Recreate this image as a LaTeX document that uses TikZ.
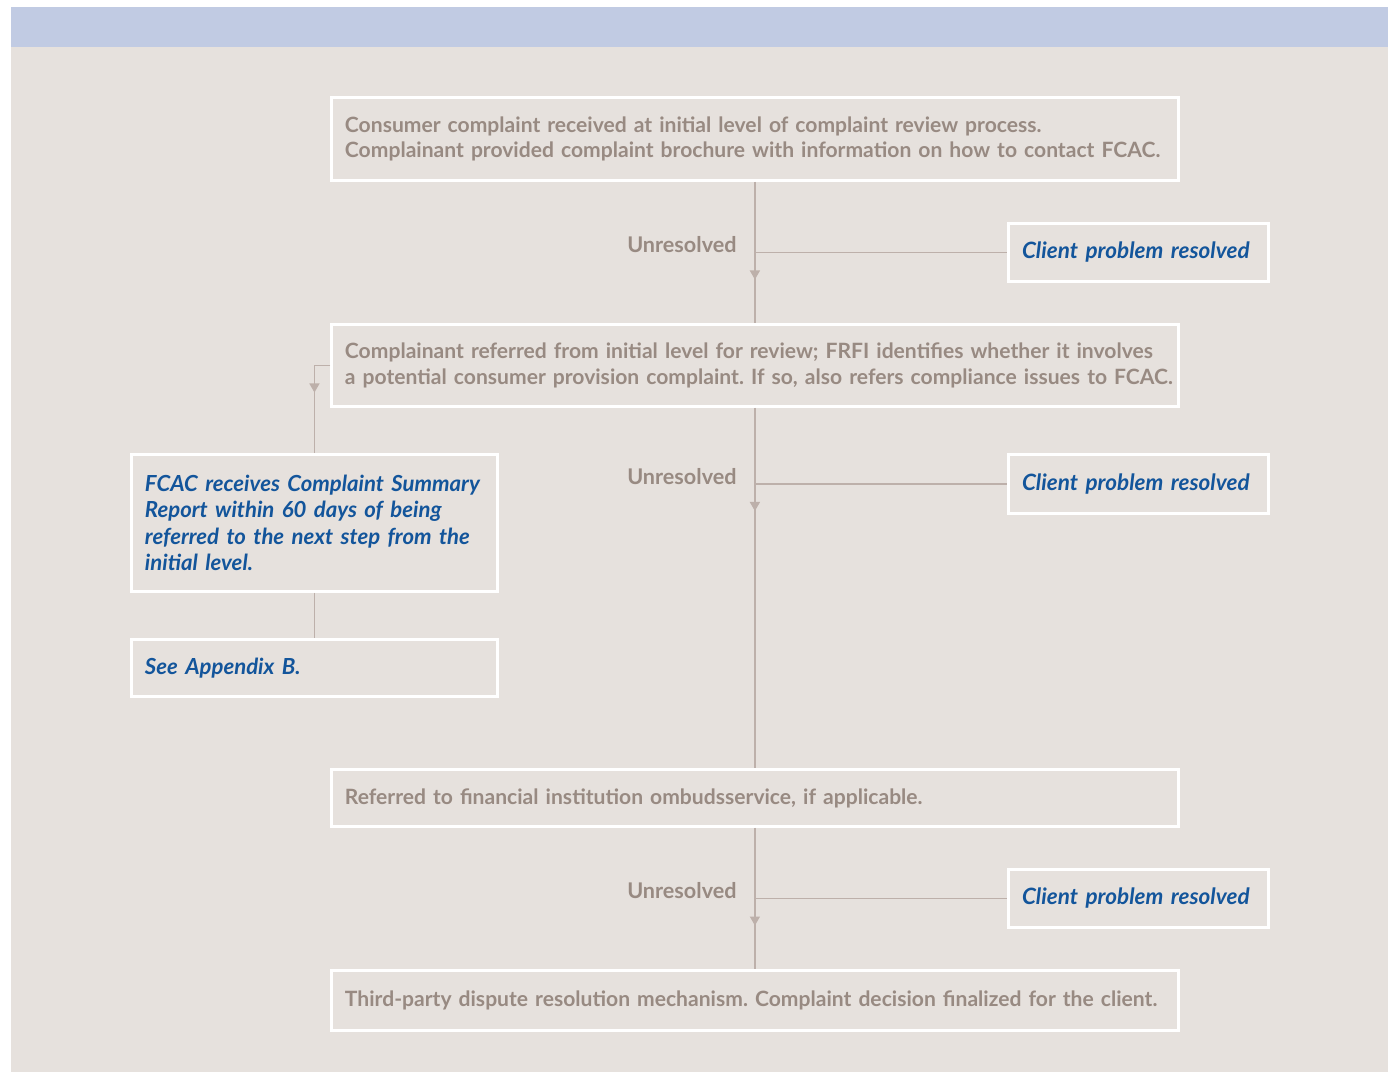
\documentclass[tikz,border=0pt]{standalone}
\usepackage{fontspec}
\setmainfont{Lato}
\usetikzlibrary{arrows.meta}
\definecolor{panel}{HTML}{E6E1DD}
\definecolor{band}{HTML}{C1CBE3}
\definecolor{greytext}{HTML}{988A82}
\definecolor{bluetext}{HTML}{13559B}
\definecolor{flowline}{HTML}{BDB0AA}
\frenchspacing

\begin{document}
\begin{tikzpicture}[x=0.02cm, y=-0.02cm,
  box/.style={draw=white, line width=1.7pt, fill=panel, anchor=north west, align=left,
    inner xsep=0.27cm, font=\fontsize{12}{14.5}\selectfont\bfseries, text=greytext},
  mainbox/.style={box, text width=16.4cm, minimum height=#1},
  resbox/.style={box, text width=4.66cm, minimum height=#1, font=\fontsize{12.8}{14.5}\selectfont\bfseries\itshape, text=bluetext},
  sidebox/.style={box, text width=6.78cm, minimum height=#1, font=\fontsize{12.6}{15}\selectfont\bfseries\itshape, text=bluetext},
  lbl/.style={font=\fontsize{12.3}{14.5}\selectfont\bfseries, text=greytext, inner sep=0pt},
  flow/.style={draw=flowline, line width=0.8pt},
  tip/.style={-{Triangle[width=0.2cm, length=0.18cm]}}]
\useasboundingbox (0,0) rectangle (1393,1072);

% background
\fill[band] (11,7) rectangle (1388,47);
\fill[panel] (11,47) rectangle (1388,1072);

% main column
\node[mainbox=1.66cm] (cons) at (330,96) {Consumer complaint received at initial level of complaint review process.\\
  Complainant provided complaint brochure with information on how to contact FCAC.};
\node[mainbox=1.64cm] (refer) at (330,323) {\mbox{Complainant referred from initial level for review; FRFI identifies whether it involves}\\
  \mbox{a potential consumer provision complaint. If so, also refers compliance issues to FCAC.}};
\node[mainbox=1.14cm] (ombud) at (330,768) {Referred to financial institution ombudsservice, if applicable.};
\node[mainbox=1.2cm] (third) at (330,969) {Third-party dispute resolution mechanism. Complaint decision finalized for the client.};

% resolved boxes
\node[resbox=1.16cm] (res1) at (1007,222) {Client problem resolved};
\node[resbox=1.18cm] (res2) at (1007,453) {Client problem resolved};
\node[resbox=1.16cm] (res3) at (1007,868) {Client problem resolved};

% left side
\node[sidebox=2.74cm] (fcac) at (130,453) {FCAC receives Complaint Summary\\
  Report within 60 days of being\\
  referred to the next step from the\\
  initial level.};
\node[sidebox=1.14cm] (app) at (130,638) {See Appendix B.};

% step 1
\draw[flow] (cons.south) -- (refer.north);
\coordinate (b1) at (cons.south |- res1.west);
\draw[flow] (b1) -- (res1.west);
\draw[flow, tip] (b1) -- ++(0,27);
\node[lbl, anchor=east] (u1) at ([xshift=-0.36cm, yshift=0.15cm]b1) {Unresolved};

% step 2
\draw[flow] (refer.south) -- (ombud.north);
\coordinate (b2) at (refer.south |- res2.west);
\draw[flow] (b2) -- (res2.west);
\draw[flow, tip] (b2) -- ++(0,27);
\node[lbl, anchor=east] (u2) at ([xshift=-0.36cm, yshift=0.15cm]b2) {Unresolved};

% step 3
\draw[flow] (ombud.south) -- (third.north);
\coordinate (b3) at (ombud.south |- res3.west);
\draw[flow] (b3) -- (res3.west);
\draw[flow, tip] (b3) -- ++(0,27);
\node[lbl, anchor=east] (u3) at ([xshift=-0.36cm, yshift=0.15cm]b3) {Unresolved};

% side branch
\draw[flow] (refer.west) -| (fcac.north);
\draw[flow, tip] (fcac.north |- refer.west) -- ++(0,27);
\draw[flow] (fcac.south) -- (app.north);
\end{tikzpicture}
\end{document}
